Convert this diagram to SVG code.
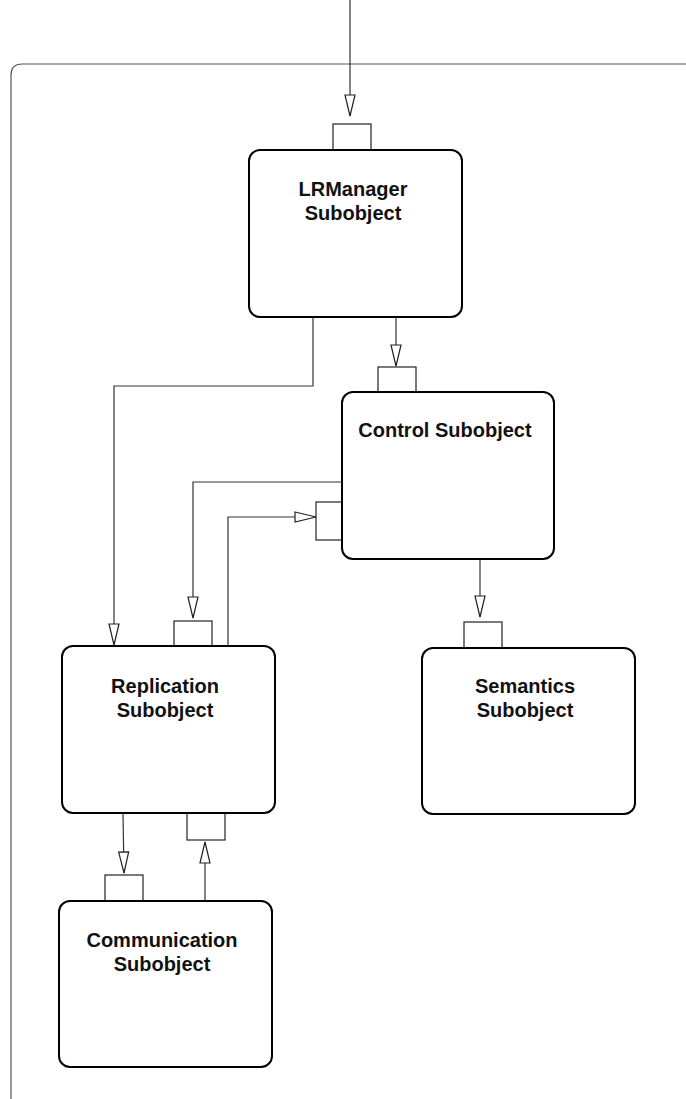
<svg xmlns="http://www.w3.org/2000/svg" width="686" height="1099" viewBox="0 0 686 1099">
  <style>
    .frame { fill: none; stroke: #555; stroke-width: 1.2; }
    .box { fill: #fff; stroke: #000; stroke-width: 2; }
    .port { fill: #fff; stroke: #222; stroke-width: 1.2; }
    .wire { fill: none; stroke: #333; stroke-width: 1.2; marker-end: url(#open); }
    .label { font-family: "Liberation Sans", Arial, Helvetica, sans-serif; font-weight: bold; font-size: 20px; fill: #111; text-anchor: middle; }
  </style>
  <defs>
    <marker id="open" markerUnits="userSpaceOnUse" markerWidth="24" markerHeight="12" refX="21" refY="5" orient="auto" viewBox="-1 -1 24 12">
      <path d="M0,0 L21,5 L0,10 Z" fill="#fff" stroke="#222" stroke-width="1.2"/>
    </marker>
  </defs>
  <rect width="686" height="1099" fill="#fff"/>

  <!-- enclosing object boundary, running off the page to the right and bottom -->
  <path class="frame" d="M11,1110 V75 Q11,64 22,64 H700"/>

  <g id="lrmanager">
    <rect class="port" x="333" y="124" width="38" height="26"/>
    <rect class="box" x="249" y="150" width="213" height="167" rx="11"/>
    <text class="label" x="353" y="196">LRManager</text>
    <text class="label" x="353" y="220">Subobject</text>
  </g>

  <g id="control">
    <rect class="port" x="378" y="367" width="38" height="25"/>
    <rect class="port" x="316" y="502" width="26" height="38"/>
    <rect class="box" x="342" y="392" width="212" height="167" rx="11"/>
    <text class="label" x="445" y="437">Control Subobject</text>
  </g>

  <g id="replication">
    <rect class="port" x="174" y="621" width="38" height="25"/>
    <rect class="port" x="187" y="813" width="38" height="27"/>
    <rect class="box" x="62" y="646" width="213" height="167" rx="11"/>
    <text class="label" x="165" y="693">Replication</text>
    <text class="label" x="165" y="717">Subobject</text>
  </g>

  <g id="semantics">
    <rect class="port" x="464" y="622" width="38" height="26"/>
    <rect class="box" x="422" y="648" width="213" height="166" rx="11"/>
    <text class="label" x="525" y="693">Semantics</text>
    <text class="label" x="525" y="717">Subobject</text>
  </g>

  <g id="communication">
    <rect class="port" x="105" y="875" width="38" height="26"/>
    <rect class="box" x="59" y="901" width="213" height="166" rx="11"/>
    <text class="label" x="162" y="947">Communication</text>
    <text class="label" x="162" y="971">Subobject</text>
  </g>

  <g id="connectors">
    <path class="wire" d="M350,0 V116"/>
    <path class="wire" d="M396,318 V366"/>
    <path class="wire" d="M313,318 V386 H114 V645"/>
    <path class="wire" d="M342,482 H193 V618"/>
    <path class="wire" d="M228,646 V517 H316"/>
    <path class="wire" d="M480,560 V617"/>
    <path class="wire" d="M123,814 L124,873"/>
    <path class="wire" d="M205,900 V842"/>
  </g>
</svg>
